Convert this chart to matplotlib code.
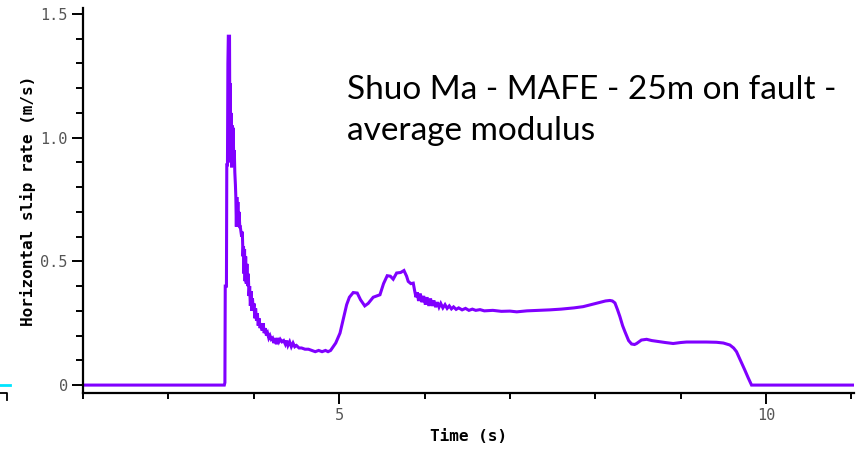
import matplotlib
matplotlib.use("Agg")
import matplotlib.pyplot as plt
from matplotlib.lines import Line2D
from matplotlib.ticker import MultipleLocator, FixedLocator

# ---- data ----
time_s = [
    2.000, 3.655, 3.662, 3.666, 3.680, 3.684, 3.692, 3.697, 3.702, 3.716,
    3.720, 3.725, 3.730, 3.735, 3.740, 3.746, 3.752, 3.758, 3.765, 3.772,
    3.778, 3.785, 3.790, 3.796, 3.802, 3.808, 3.814, 3.820, 3.828, 3.836,
    3.842, 3.850, 3.858, 3.866, 3.874, 3.880, 3.886, 3.892, 3.898, 3.905,
    3.912, 3.920, 3.928, 3.936, 3.944, 3.952, 3.960, 3.968, 3.976, 3.985,
    3.994, 4.003, 4.012, 4.022, 4.032, 4.042, 4.052, 4.062, 4.074, 4.086,
    4.098, 4.110, 4.122, 4.135, 4.148, 4.162, 4.176, 4.190, 4.205, 4.220,
    4.235, 4.250, 4.265, 4.280, 4.295, 4.310, 4.330, 4.350, 4.370, 4.385,
    4.400, 4.420, 4.440, 4.460, 4.480, 4.500, 4.530, 4.560, 4.600, 4.640,
    4.680, 4.720, 4.760, 4.800, 4.840, 4.870, 4.900, 4.930, 4.960, 5.010,
    5.050, 5.088, 5.120, 5.165, 5.212, 5.250, 5.300, 5.340, 5.399, 5.440,
    5.478, 5.520, 5.563, 5.600, 5.633, 5.673, 5.720, 5.759, 5.790, 5.809,
    5.840, 5.868, 5.885, 5.900, 5.915, 5.930, 5.950, 5.970, 5.990, 6.010,
    6.030, 6.050, 6.070, 6.090, 6.110, 6.130, 6.150, 6.170, 6.190, 6.215,
    6.240, 6.265, 6.290, 6.315, 6.340, 6.370, 6.400, 6.440, 6.480, 6.520,
    6.560, 6.600, 6.650, 6.700, 6.800, 6.900, 7.000, 7.080, 7.200, 7.350,
    7.468, 7.600, 7.750, 7.858, 7.950, 8.054, 8.120, 8.171, 8.200, 8.230,
    8.260, 8.288, 8.320, 8.347, 8.390, 8.425, 8.460, 8.484, 8.540, 8.601,
    8.660, 8.736, 8.820, 8.912, 9.000, 9.069, 9.200, 9.300, 9.420, 9.500,
    9.576, 9.620, 9.654, 9.700, 9.751, 9.790, 9.830, 11.100,
]
slip_rate = [
    0.000, 0.000, 0.010, 0.400, 0.400, 0.890, 0.890, 1.300, 1.410, 1.410,
    1.000, 1.220, 0.900, 1.100, 0.880, 1.050, 0.900, 1.040, 0.920, 0.950,
    0.860, 0.810, 0.760, 0.640, 0.760, 0.650, 0.740, 0.640, 0.700, 0.640,
    0.640, 0.620, 0.600, 0.620, 0.520, 0.560, 0.450, 0.550, 0.420, 0.520,
    0.410, 0.490, 0.400, 0.450, 0.360, 0.400, 0.320, 0.380, 0.300, 0.350,
    0.300, 0.330, 0.270, 0.310, 0.260, 0.290, 0.240, 0.270, 0.230, 0.250,
    0.220, 0.250, 0.210, 0.230, 0.200, 0.210, 0.190, 0.200, 0.185, 0.190,
    0.170, 0.190, 0.165, 0.190, 0.175, 0.185, 0.175, 0.180, 0.165, 0.180,
    0.160, 0.175, 0.155, 0.170, 0.155, 0.160, 0.150, 0.150, 0.145, 0.145,
    0.140, 0.135, 0.140, 0.135, 0.140, 0.135, 0.140, 0.155, 0.170, 0.210,
    0.270, 0.325, 0.355, 0.374, 0.372, 0.345, 0.320, 0.330, 0.355, 0.360,
    0.365, 0.410, 0.442, 0.440, 0.428, 0.453, 0.455, 0.463, 0.440, 0.419,
    0.410, 0.412, 0.380, 0.355, 0.375, 0.340, 0.370, 0.335, 0.360, 0.325,
    0.355, 0.320, 0.350, 0.320, 0.342, 0.315, 0.335, 0.315, 0.330, 0.312,
    0.325, 0.310, 0.320, 0.308, 0.316, 0.306, 0.312, 0.304, 0.310, 0.302,
    0.307, 0.302, 0.305, 0.300, 0.302, 0.298, 0.299, 0.296, 0.300, 0.302,
    0.304, 0.307, 0.312, 0.317, 0.325, 0.334, 0.340, 0.342, 0.340, 0.332,
    0.305, 0.277, 0.240, 0.216, 0.180, 0.166, 0.164, 0.168, 0.182, 0.185,
    0.180, 0.176, 0.172, 0.168, 0.172, 0.174, 0.174, 0.174, 0.173, 0.170,
    0.162, 0.150, 0.135, 0.100, 0.061, 0.030, 0.000, 0.000,
]
x_major_ticks = [5, 10]
x_major_labels = ["5", "10"]
y_major_ticks = [0, 0.5, 1.0, 1.5]
y_major_labels = ["0", "0.5", "1.0", "1.5"]
title_lines = ["Shuo Ma - MAFE - 25m on fault -", "average modulus"]

W, H = 864, 451
fig = plt.figure(figsize=(W / 100, H / 100), dpi=100)
ax = fig.add_axes([83 / W, 1 - 393 / H, (854 - 83) / W, (393 - 8) / H])

ax.plot(time_s, slip_rate, color="#8000ff", lw=2.2, solid_joinstyle="miter")
ax.set_xlim(2.0, 11.03)
ax.set_ylim(-0.032, 1.524)

for s in ["top", "right"]:
    ax.spines[s].set_visible(False)
for s in ["left", "bottom"]:
    ax.spines[s].set_linewidth(1.6)
    ax.spines[s].set_color("black")

ax.xaxis.set_major_locator(FixedLocator(x_major_ticks))
ax.set_xticklabels(x_major_labels)
ax.xaxis.set_minor_locator(MultipleLocator(1))
ax.yaxis.set_major_locator(FixedLocator(y_major_ticks))
ax.set_yticklabels(y_major_labels)
ax.yaxis.set_minor_locator(MultipleLocator(0.1))

mono = "DejaVu Sans Mono"
ax.tick_params(axis="both", which="major", direction="out", length=8, width=1.4,
               color="black", labelcolor="#555555", labelsize=11, pad=3)
ax.tick_params(axis="x", which="minor", direction="out", length=4.5, width=1.4, color="black")
ax.tick_params(axis="y", which="minor", direction="out", length=5, width=1.4, color="black")
for lab in ax.get_xticklabels() + ax.get_yticklabels():
    lab.set_family(mono)

ax.set_xlabel("Time (s)", family=mono, fontsize=11.5, fontweight="bold",
              color="black", labelpad=4)
ax.set_ylabel("Horizontal slip rate (m/s)", family=mono, fontsize=11.5,
              fontweight="bold", color="black", labelpad=3)

fig.text(347 / W, 1 - 99 / H, title_lines[0], family="Lato", fontsize=24,
         ha="left", va="baseline", color="black")
fig.text(347 / W, 1 - 140 / H, title_lines[1], family="Lato", fontsize=24,
         ha="left", va="baseline", color="black")

# small fragments of a neighbouring panel at the left edge
fig.add_artist(Line2D([0 / W, 10 / W], [1 - 385 / H, 1 - 385 / H], color="#00e5ff", lw=2))
fig.add_artist(Line2D([0 / W, 7 / W, 7 / W], [1 - 393 / H, 1 - 393 / H, 1 - 400 / H],
                      color="black", lw=1.3))

fig.savefig("out.png", dpi=100)
